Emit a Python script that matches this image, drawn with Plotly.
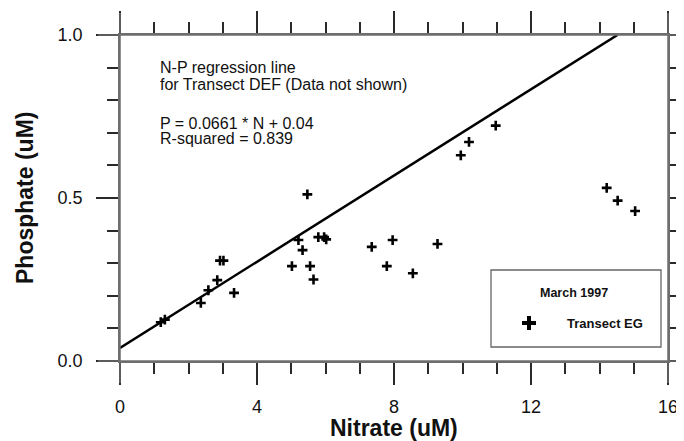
import numpy as np
import plotly.graph_objects as go

# ---- data ----
nitrate = [1.19, 1.31, 2.36, 2.58, 2.84, 2.92, 3.02, 3.33, 5.02, 5.21, 5.33, 5.47,
           5.55, 5.65, 5.79, 5.96, 6.02, 7.35, 7.79, 7.96, 8.55, 9.27, 9.95, 10.19,
           10.97, 14.21, 14.53, 15.04]
phosphate = [0.119, 0.127, 0.178, 0.217, 0.248, 0.308, 0.308, 0.209, 0.291, 0.371,
             0.340, 0.511, 0.291, 0.250, 0.380, 0.380, 0.373, 0.350, 0.291, 0.371,
             0.269, 0.359, 0.631, 0.672, 0.722, 0.531, 0.492, 0.460]
reg_slope = 0.0661
reg_intercept = 0.04
x_ticks = [0, 4, 8, 12, 16]
y_ticks = [0.0, 0.5, 1.0]
x_minor_step = 1
y_minor_step = 0.1

FONT = "Liberation Sans, Arial, Helvetica, sans-serif"

# regression line from N=0 up to where it reaches the top of the plot
n_end = (1.0 - reg_intercept) / reg_slope
reg_x = np.array([0.0, n_end])
reg_y = reg_slope * reg_x + reg_intercept

fig = go.Figure()
fig.add_trace(go.Scatter(x=reg_x, y=reg_y, mode="lines",
                         line=dict(color="black", width=2.5),
                         showlegend=False, hoverinfo="skip"))
fig.add_trace(go.Scatter(x=nitrate, y=phosphate, mode="markers",
                         marker=dict(symbol="cross-thin", size=7,
                                     line=dict(color="black", width=2.6)),
                         showlegend=False))
# legend entry (larger plus)
fig.add_trace(go.Scatter(x=[None], y=[None], mode="markers", name="Transect EG",
                         marker=dict(symbol="cross-thin", size=10,
                                     line=dict(color="black", width=4)),
                         showlegend=True))

# page body has an 8px margin -> figure sits 8px in from the window corner
OFF = 8
W, H = 684 - OFF, 441 - OFF
PL, PR, PT, PB = 120, 668, 35, 361          # plot area in window pixels
L, T = PL - OFF, PT - OFF
R, B = W - (PR - OFF), H - (PB - OFF)
pw, ph = PR - PL, PB - PT


def px(x):
    return (x - PL) / pw


def py(y):
    return (PB - y) / ph


axis_common = dict(showline=True, linecolor="#6e6e6e", linewidth=1.5, mirror="allticks",
                   ticks="outside", ticklen=22, tickwidth=2, tickcolor="#2a2a2a",
                   showgrid=False, zeroline=False, automargin=False,
                   tickfont=dict(family=FONT, size=18, color="#111"))
minor_common = dict(ticks="outside", ticklen=11, tickwidth=2, tickcolor="#2a2a2a",
                    showgrid=False)

fig.update_layout(
    width=W, height=H,
    margin=dict(l=L, r=R, t=T, b=B),
    paper_bgcolor="white", plot_bgcolor="white",
    font=dict(family=FONT, color="#111"),
    xaxis=dict(range=[x_ticks[0], x_ticks[-1]], tickmode="linear", tick0=x_ticks[0],
               dtick=x_ticks[1] - x_ticks[0], ticklabelstandoff=7,
               minor=dict(tickmode="linear", tick0=x_ticks[0], dtick=x_minor_step,
                          **minor_common),
               **axis_common),
    yaxis=dict(range=[y_ticks[0], y_ticks[-1]], tickmode="linear", tick0=y_ticks[0],
               dtick=y_ticks[1] - y_ticks[0], tickformat=".1f", ticklabelstandoff=10,
               minor=dict(tickmode="linear", tick0=y_ticks[0], dtick=y_minor_step,
                          **minor_common),
               **axis_common),
    legend=dict(x=px(491), y=py(308), xanchor="left", yanchor="top",
                bgcolor="rgba(0,0,0,0)", borderwidth=0, itemwidth=66,
                font=dict(family=FONT, size=13, color="#111", weight="bold")),
    showlegend=True,
)

# extended axis lines (the frame lines run out as far as the major ticks)
ext_x = 22 / pw
ext_y = 22 / ph
line_style = dict(color="#6e6e6e", width=1.5)
for yy in (0, 1):
    fig.add_shape(type="line", xref="paper", yref="paper", x0=-ext_x, x1=1 + 2 * ext_x,
                  y0=yy, y1=yy, line=line_style)
for xx in (0, 1):
    fig.add_shape(type="line", xref="paper", yref="paper", x0=xx, x1=xx,
                  y0=-ext_y, y1=1 + ext_y, line=line_style)

# legend box
fig.add_shape(type="rect", xref="paper", yref="paper",
              x0=px(491), x1=px(661), y0=py(347), y1=py(270),
              line=dict(color="#666", width=1.3), fillcolor="rgba(0,0,0,0)")

ann = []
ann.append(dict(text="March 1997", x=px(574), y=py(293), xanchor="center", yanchor="middle",
                font=dict(family=FONT, size=12.5, color="#111", weight="bold")))
text_lines = [("N-P regression line", 68), ("for Transect DEF (Data not shown)", 84),
              ("P = 0.0661 * N + 0.04", 123), ("R-squared = 0.839", 138)]
for t, yy in text_lines:
    ann.append(dict(text=t, x=px(158), y=py(yy), xanchor="left", yanchor="middle",
                    font=dict(family=FONT, size=16, color="#111")))
ann.append(dict(text="Nitrate (uM)", x=px(394), y=py(428), xanchor="center", yanchor="middle",
                font=dict(family=FONT, size=23, color="#111", weight="bold")))
ann.append(dict(text="Phosphate (uM)", x=px(25), y=py(198), xanchor="center", yanchor="middle",
                textangle=-90,
                font=dict(family=FONT, size=23, color="#111", weight="bold")))
for a in ann:
    a.update(xref="paper", yref="paper", showarrow=False)
fig.update_layout(annotations=ann)

fig.write_html("out.html")
